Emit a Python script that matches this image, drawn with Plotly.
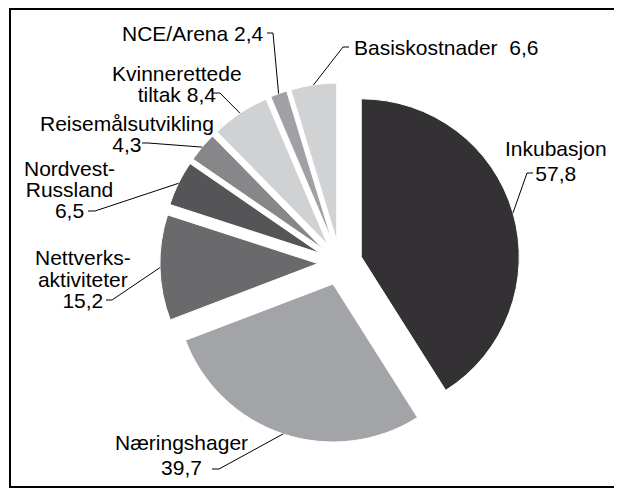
import numpy as np
import plotly.graph_objects as go

# page body adds an 8px margin, so the figure is drawn 8px in from the window edge
OFF = 8
FW, FH = 622 - OFF, 493 - OFF

# ── data ──
labels = ["Inkubasjon", "Næringshager", "Nettverksaktiviteter", "Nordvest-Russland",
          "Reisemålsutvikling", "Kvinnerettede tiltak", "NCE/Arena", "Basiskostnader"]
values = [57.8, 39.7, 15.2, 6.5, 4.3, 8.4, 2.4, 6.6]
colors = ["#333133", "#a3a4a7", "#6a6a6d", "#555557",
          "#87878a", "#d0d1d3", "#a0a1a4", "#d1d2d4"]


def num(v):
    return f"{v:.1f}".replace(".", ",")


# label text lines per slice; value is placed from `values`
label_lines = [
    ["Inkubasjon", num(values[0])],
    ["Næringshager", num(values[1])],
    ["Nettverks-", "aktiviteter", num(values[2])],
    ["Nordvest-", "Russland", num(values[3])],
    ["Reisemålsutvikling", num(values[4])],
    ["Kvinnerettede", "tiltak " + num(values[5])],
    ["NCE/Arena " + num(values[6])],
    ["Basiskostnader  " + num(values[7])],
]

# ── layout (window pixels) ──
CX, CY, R, PULL = 340, 263, 158, 0.14
FONT = "Liberation Sans, Arial, sans-serif"
FS = 21

# per label: x, xanchor, y of first line, line gap, leader start, leader elbow
label_pos = [
    (556, "center", 148, 25, (533, 173), (527, 173)),
    (181, "center", 442, 25, (212, 469), (219, 469)),
    (83, "center", 257, 21.5, (106, 300), (112, 300)),
    (69, "center", 168, 21, (88, 211), (95, 211)),
    (127, "center", 123.5, 21, (142, 143), (148, 143)),
    (177, "center", 73, 21, (213, 93), (220, 93)),
    (120, "left", 33, 20, (267, 33), (273, 33)),
    (352, "left", 47, 20, (349, 47), (343, 47)),
]


def px(x):
    return (x - OFF) / FW


def py(y):
    return 1 - (y - OFF) / FH


fig = go.Figure()

half = R * (1 + PULL)
fig.add_trace(go.Pie(
    labels=labels,
    values=values,
    sort=False,
    direction="clockwise",
    rotation=0,
    pull=[PULL] * len(values),
    marker=dict(colors=colors, line=dict(color="white", width=1)),
    textinfo="none",
    hoverinfo="label+value",
    domain=dict(x=[px(CX - half), px(CX + half)],
                y=[py(CY + half), py(CY - half)]),
    showlegend=False,
))

# leader lines end at mid-angle on each pulled slice's arc
vals = np.array(values)
cum = np.cumsum(vals) - vals / 2
ang = np.deg2rad(cum / vals.sum() * 360)
rr = R * (1 + PULL)
arc_x = CX + rr * np.sin(ang)
arc_y = CY - rr * np.cos(ang)

shapes = []
annotations = []
for i, (x, anchor, y0, gap, p0, p1) in enumerate(label_pos):
    lines = label_lines[i]
    # base size sets the line spacing (1.3em), spans set the glyph size
    text = "<br>".join(f"<span style='font-size:{FS}px'>{t}</span>" for t in lines)
    yc = y0 + gap * (len(lines) - 1) / 2
    annotations.append(dict(
        text=text, x=px(x), y=py(yc), xref="paper", yref="paper",
        xanchor=anchor, yanchor="middle", align="center", showarrow=False,
        font=dict(family=FONT, size=gap / 1.3 if len(lines) > 1 else FS, color="black"),
    ))
    path = (f"M {px(p0[0])} {py(p0[1])} L {px(p1[0])} {py(p1[1])} "
            f"L {px(arc_x[i])} {py(arc_y[i])}")
    shapes.append(dict(type="path", path=path, xref="paper", yref="paper",
                       line=dict(color="black", width=1)))

# outer frame
shapes.append(dict(type="rect", xref="paper", yref="paper",
                   x0=px(10), x1=px(615), y0=py(487), y1=py(OFF + 1),
                   line=dict(color="black", width=2)))

fig.update_layout(
    width=FW, height=FH,
    margin=dict(l=0, r=0, t=0, b=0),
    paper_bgcolor="white",
    plot_bgcolor="white",
    shapes=shapes,
    annotations=annotations,
)

fig.write_html("out.html")
